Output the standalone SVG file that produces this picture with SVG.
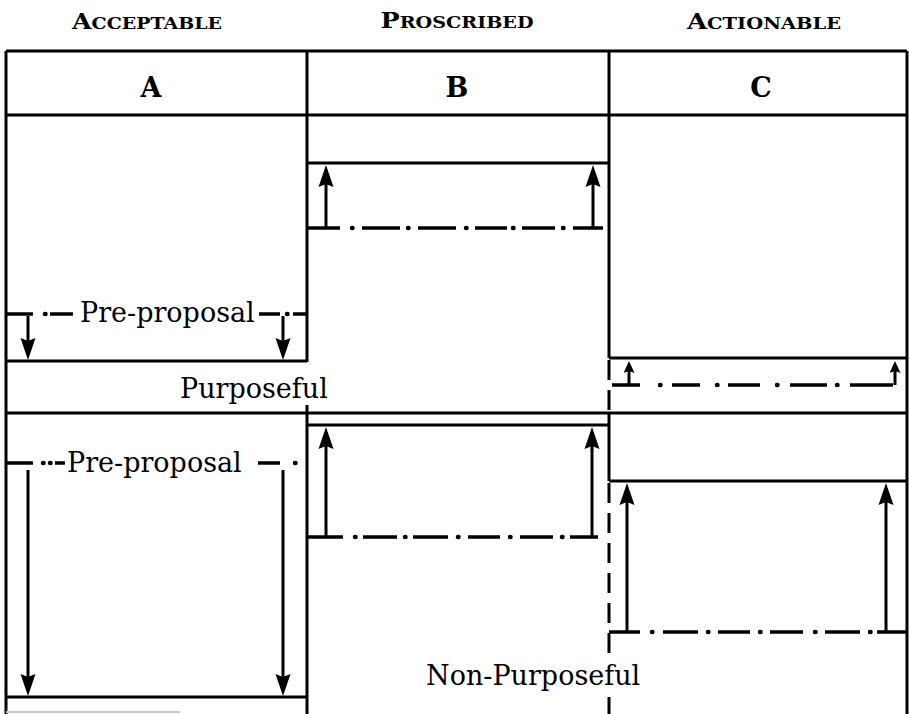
<svg xmlns="http://www.w3.org/2000/svg" width="909" height="714" viewBox="0 0 909 714">
<style>
.w{stroke:#000;stroke-width:3;fill:none}
.dd{stroke:#000;stroke-width:3.5;fill:none}
.dt{stroke:#000;stroke-width:4.5;fill:none;stroke-linecap:round}
.dash{stroke:#000;stroke-width:3;fill:none;stroke-dasharray:20 10}
.arr{stroke:#000;stroke-width:3;fill:none;marker-end:url(#ah)}
.arrs{stroke:#000;stroke-width:3;fill:none;marker-end:url(#ahs)}
.lbl{font-family:"DejaVu Serif","Liberation Serif",serif;font-size:27px;fill:#000}
.hd{font-family:"DejaVu Serif","Liberation Serif",serif;font-weight:bold;fill:#000}
</style>
<defs>
<marker id="ah" markerUnits="userSpaceOnUse" markerWidth="22" markerHeight="16" viewBox="0 0 22 16" refX="12" refY="8" orient="auto"><path d="M0,0.5 L22,8 L0,15.5 L3,8 Z" fill="#000"/></marker>
<marker id="ahs" markerUnits="userSpaceOnUse" markerWidth="12" markerHeight="11" viewBox="0 0 12 11" refX="6" refY="5.5" orient="auto"><path d="M0,0 L12,5.5 L0,11 L2,5.5 Z" fill="#000"/></marker>
</defs>
<rect width="909" height="714" fill="#fff"/>

<g id="headers">
<text class="hd" x="147" y="29" text-anchor="middle" textLength="150" lengthAdjust="spacingAndGlyphs"><tspan font-size="22">A</tspan><tspan font-size="16.5">CCEPTABLE</tspan></text>
<text class="hd" x="457" y="28" text-anchor="middle" textLength="153" lengthAdjust="spacingAndGlyphs"><tspan font-size="22">P</tspan><tspan font-size="16.5">ROSCRIBED</tspan></text>
<text class="hd" x="764" y="29" text-anchor="middle" textLength="154" lengthAdjust="spacingAndGlyphs"><tspan font-size="22">A</tspan><tspan font-size="16.5">CTIONABLE</tspan></text>
</g>

<g id="frame">
<path class="w" d="M6 51 H907 M6 115 H907 M6 51 V714 M907 51 V714 M307 51 V362 M307 405 V714 M609 51 V358 M609 413 V481 M6 413 H907"/>
<path class="dash" d="M609 360 V413 M609 483 V657 M609 697 V714"/>
<text class="hd" x="151" y="97" font-size="27" text-anchor="middle">A</text>
<text class="hd" x="457" y="97" font-size="27" text-anchor="middle">B</text>
<text class="hd" x="761" y="97" font-size="27" text-anchor="middle">C</text>
</g>

<g id="colA">
<path class="dd" d="M6 314 H33 M50 314 H73 M259 314 H280 M293 314 H307"/>
<path class="dt" d="M45 314h0.5 M287 314h0.5"/>
<text class="lbl" x="80" y="322">Pre-proposal</text>
<path class="w" d="M6 361 H307"/>
<text class="lbl" x="180" y="398">Purposeful</text>
<path class="dd" d="M6 463 H33 M55 463 H65 M258 463 H280"/>
<path class="dt" d="M43 463h0.5 M50 463h0.5 M295 463h0.5"/>
<text class="lbl" x="67" y="472">Pre-proposal</text>
<path class="w" d="M6 697 H307"/>
<path d="M6 712 H180" stroke="#c8c8c8" stroke-width="2"/>
</g>

<g id="colB">
<path class="w" d="M307 163 H609 M307 425 H609"/>
<path class="dd" d="M307 228 H340 M362 228 H400 M418 228 H456 M475 228 H507 M522 228 H555 M573 228 H603"/>
<path class="dt" d="M352 228h0.5 M408 228h0.5 M466 228h0.5 M513 228h0.5 M563 228h0.5"/>
<path class="dd" d="M307 537 H343 M363 537 H397 M413 537 H448 M468 537 H500 M520 537 H553 M570 537 H598"/>
<path class="dt" d="M355 537h0.5 M405 537h0.5 M458 537h0.5 M510 537h0.5 M562 537h0.5"/>
<text class="lbl" x="426" y="685">Non-Purposeful</text>
</g>

<g id="colC">
<path class="w" d="M609 358 H907 M609 481 H907"/>
<path class="dd" d="M612 385 H640 M672 385 H700 M728 385 H760 M790 385 H827 M850 385 H893"/>
<path class="dt" d="M660 385h0.5 M717 385h0.5 M777 385h0.5 M837 385h0.5"/>
<path class="dd" d="M609 632 H640 M663 632 H698 M718 632 H750 M770 632 H803 M825 632 H860 M877 632 H907"/>
<path class="dt" d="M652 632h0.5 M708 632h0.5 M760 632h0.5 M815 632h0.5 M870 632h0.5"/>
</g>

<g id="connectors">
<path class="arr" d="M28 316 V350"/>
<path class="arr" d="M283 316 V350"/>
<path class="arr" d="M28 470 V686"/>
<path class="arr" d="M283 470 V686"/>
<path class="arr" d="M326 228 V175"/>
<path class="arr" d="M593 228 V175"/>
<path class="arr" d="M326 537 V437"/>
<path class="arr" d="M592 537 V437"/>
<path class="arrs" d="M629 385 V367"/>
<path class="arrs" d="M895 385 V367"/>
<path class="arr" d="M627 632 V493"/>
<path class="arr" d="M886 632 V493"/>
</g>
</svg>
